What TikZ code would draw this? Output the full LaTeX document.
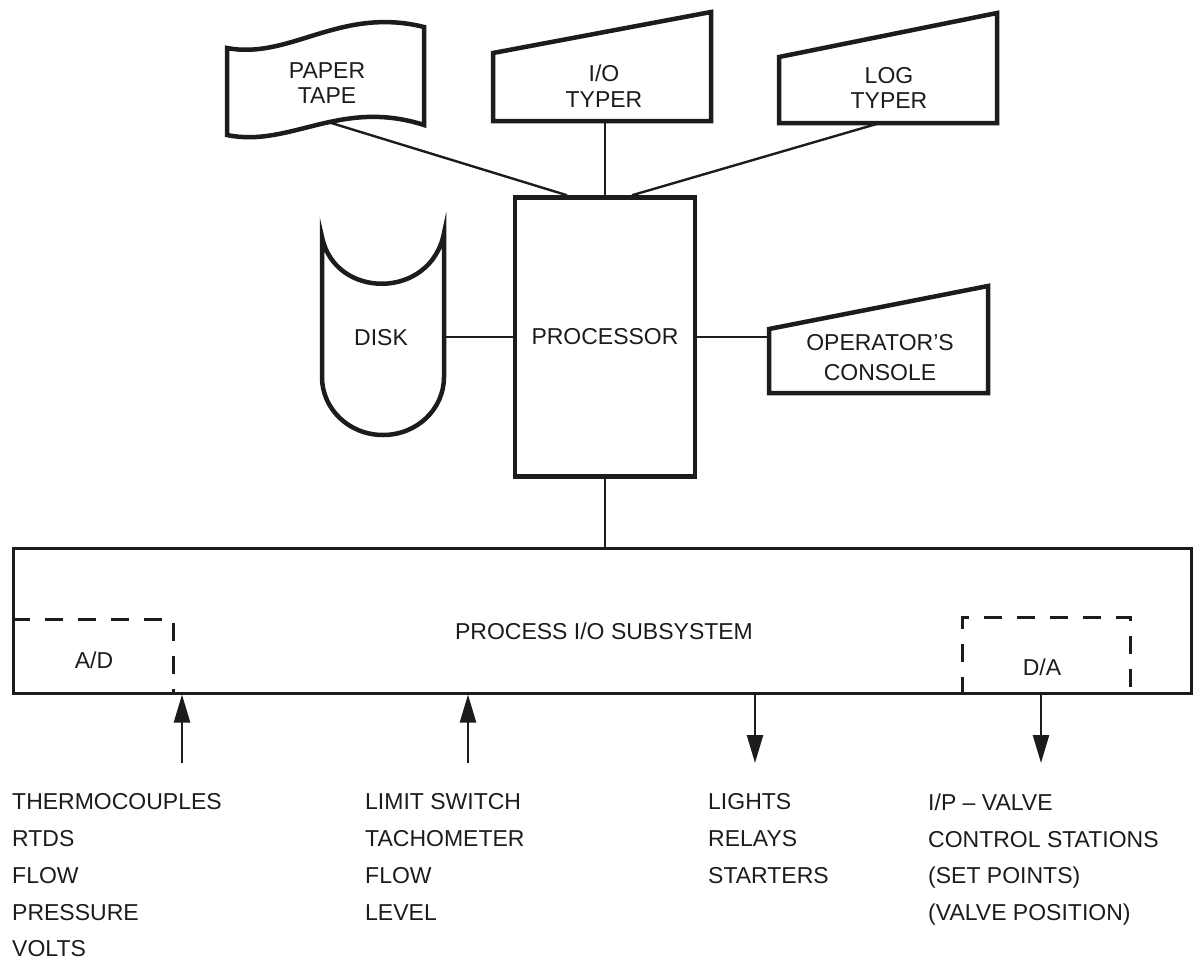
\documentclass[tikz,border=0pt]{standalone}
\usepackage{fontspec}
\setmainfont{Liberation Sans}
\usetikzlibrary{arrows.meta,calc}
\definecolor{pcInk}{HTML}{1C1C1C}
\newcommand{\pcshapefont}{\fontsize{23}{25.5}\selectfont}
\newcommand{\pcconsfont}{\fontsize{23}{30}\selectfont}
\newcommand{\pclistfont}{\fontsize{23}{36.75}\selectfont}
\tikzset{
  pcunit/.style={draw=pcInk, line width=4.5pt, fill=white},
  pcbox/.style={
    rectangle, draw=pcInk, line width=4.5pt, fill=white,
    inner sep=0pt, font=\pcshapefont, text=pcInk
  },
  pcbus/.style={rectangle, draw=pcInk, line width=3pt, inner sep=0pt},
  pclabel/.style={font=\pcshapefont, text=pcInk, align=center, inner sep=0pt},
  pclist/.style={font=\pclistfont, text=pcInk, align=left, inner sep=0pt, anchor=north west},
  pclink/.style={draw=pcInk, line width=2.4pt},
  pcsignal/.style={draw=pcInk, line width=2.4pt, -{Triangle[length=28pt,width=16pt]}},
  pcdash/.style={draw=pcInk, line width=3pt, dash pattern=on 18pt off 15pt}
}

\begin{document}
\begin{tikzpicture}[x=1pt, y=-1pt]
\useasboundingbox (0,0) rectangle (1193,961);

% Perifericos
\draw[pcunit] (227,48) .. controls (290,60) and (340,6) .. (424,27) -- (424,125)
  .. controls (340,98) and (290,148) .. (227,135) -- cycle;
\node[pclabel] (tape) at (327,83) {PAPER\\TAPE};
\coordinate (tape-out) at (328,122);

\draw[pcunit] (493,53) -- (711,12) -- (711,121) -- (493,121) -- cycle;
\node[pclabel] (iot) at (604,86) {I/O\\TYPER};
\coordinate (iot-out) at (605,121);

\draw[pcunit] (779,57) -- (997,13) -- (997,123) -- (779,123) -- cycle;
\node[pclabel] (logt) at (889,88) {LOG\\TYPER};
\coordinate (logt-out) at (880,123);

\draw[pcunit] (322,237) .. controls (335,300) and (431,300) .. (444,233) -- (444,377)
  .. controls (444,409) and (417,435) .. (383,435)
  .. controls (349,435) and (322,409) .. (322,377) -- cycle;
\node[pclabel] (disk) at (381,338) {DISK};
\coordinate (disk-out) at (444,337);

\draw[pcunit] (769,329) -- (988,286) -- (988,393) -- (769,393) -- cycle;
\node[pclabel, font=\pcconsfont] (cons) at (880,358) {OPERATOR’S\\CONSOLE};
\coordinate (cons-in) at (769,337);

% Procesador y subsistema
\node[pcbox, minimum width=180pt, minimum height=279pt] (proc) at (605,337) {PROCESSOR};
\node[pcbus, minimum width=1178pt, minimum height=144.5pt] (pio) at (602,620.75) {};
\node[pclabel] (pio-lbl) at (604,631) {PROCESS I/O SUBSYSTEM};

\coordinate (ad) at (173,619);
\draw[pcdash] (ad -| pio.west) -- (ad) -- (ad |- pio.south);
\node[pclabel] (ad-lbl) at (94,660) {A/D};

\coordinate (da-l) at (962,617);
\coordinate (da-r) at (1130,617);
\draw[pcdash] (da-l |- pio.south) -- (da-l) -- (da-r) -- (da-r |- pio.south);
\node[pclabel] (da-lbl) at (1042,667) {D/A};

% Enlaces
\draw[pclink] (tape-out) -- ($(proc.north)+(-38,0)$);
\draw[pclink] (iot-out) -- (proc.north);
\draw[pclink] (logt-out) -- ($(proc.north)+(27,0)$);
\draw[pclink] (disk-out) -- (proc.west);
\draw[pclink] (proc.east) -- (cons-in);
\draw[pclink] (proc.south) -- (proc.south |- pio.north);

% Entradas y salidas de campo
\coordinate (in-a) at (182,763);
\coordinate (in-b) at (468,763);
\coordinate (out-a) at (755,763);
\coordinate (out-b) at (1041,763);
\draw[pcsignal] (in-a) -- (in-a |- pio.south);
\draw[pcsignal] (in-b) -- (in-b |- pio.south);
\draw[pcsignal] (out-a |- pio.south) -- (out-a);
\draw[pcsignal] (out-b |- pio.south) -- (out-b);

\node[pclist] (src-a) at (12,793.5) {THERMOCOUPLES\\RTDS\\FLOW\\PRESSURE\\VOLTS};
\node[pclist] (src-b) at (365,793.5) {LIMIT SWITCH\\TACHOMETER\\FLOW\\LEVEL};
\node[pclist] (dst-a) at (708,793.5) {LIGHTS\\RELAYS\\STARTERS};
\node[pclist] (dst-b) at (928,793.5) {I/P – VALVE\\CONTROL STATIONS\\(SET POINTS)\\(VALVE POSITION)};

\end{tikzpicture}
\end{document}
